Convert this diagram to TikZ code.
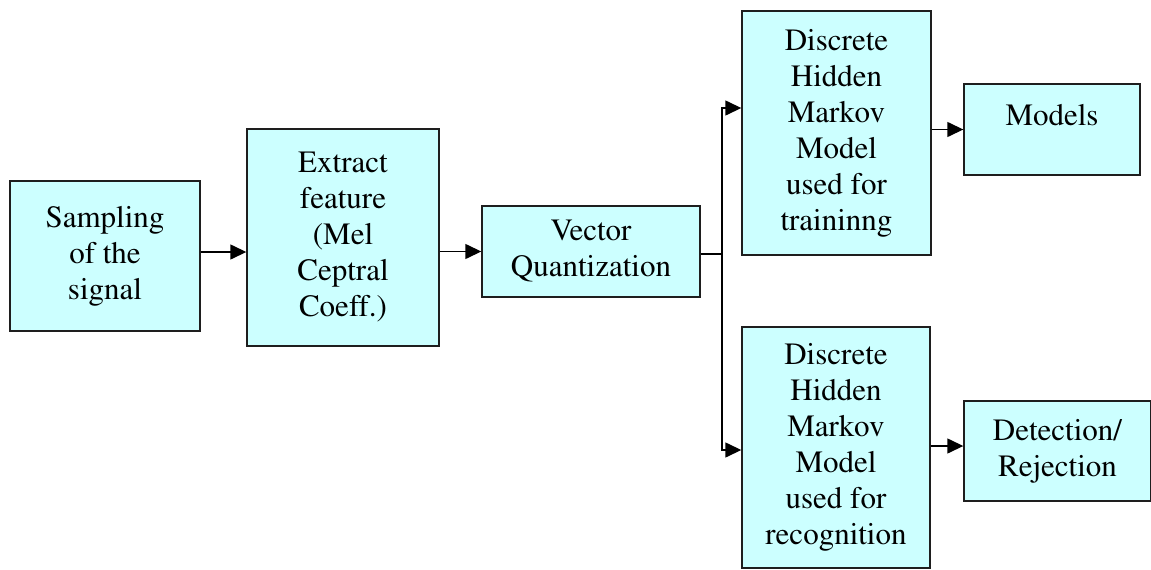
\documentclass[tikz,border=0pt]{standalone}
\usepackage[T1]{fontenc}
\usepackage{mathptmx}
\usetikzlibrary{arrows.meta}
\definecolor{boxfill}{RGB}{204,255,255}
\definecolor{edge}{RGB}{30,30,30}
\begin{document}
\begin{tikzpicture}[x=1pt,y=-1pt,
  blk/.style={draw=edge, line width=1.4pt, fill=boxfill, inner sep=0pt, align=center,
    font=\fontfamily{ptm}\fontsize{31}{36}\selectfont},
  arr/.style={draw=black, line width=1.4pt, -{Triangle[length=16pt,width=15pt]}},
  ln/.style={draw=black, line width=1.4pt}]
\useasboundingbox (0,0) rectangle (1151,570);
\node[blk, minimum width=190pt, minimum height=150pt] (samp) at (105,256) {Sampling\\of the\\signal};
\node[blk, minimum width=192pt, minimum height=217pt] (ext) at (343,237.5) {Extract\\feature\\(Mel\\Ceptral\\Coeff.)};
\node[blk, minimum width=218pt, minimum height=91pt] (vq) at (591,251.5) {Vector\\Quantization};
\node[blk, minimum width=189pt, minimum height=244pt] (top) at (836.5,133) {Discrete\\Hidden\\Markov\\Model\\used for\\traininng};
\node[blk, minimum width=176pt, minimum height=91pt, text depth=29pt] (models) at (1052,129.5) {Models};
\node[blk, minimum width=188pt, minimum height=241pt] (bot) at (836,447.5) {Discrete\\Hidden\\Markov\\Model\\used for\\recognition};
\node[blk, minimum width=187pt, minimum height=100pt] (det) at (1057.5,451) {Detection/\\Rejection};
\coordinate (split) at (722,254);
\draw[arr] ([yshift=4pt]samp.east) -- ([yshift=4pt]samp.east -| ext.west);
\draw[arr] (vq.west -| ext.east) -- (vq.west);
\draw[ln] (vq.east |- split) -- (split);
\draw[arr] (split) |- ([yshift=25pt]top.west);
\draw[arr] (split) |- ([yshift=-2.5pt]bot.west);
\draw[arr] (models.west -| top.east) -- (models.west);
\draw[arr] ([yshift=1.5pt]bot.east) -- ([yshift=1.5pt]bot.east -| det.west);
\end{tikzpicture}
\end{document}
